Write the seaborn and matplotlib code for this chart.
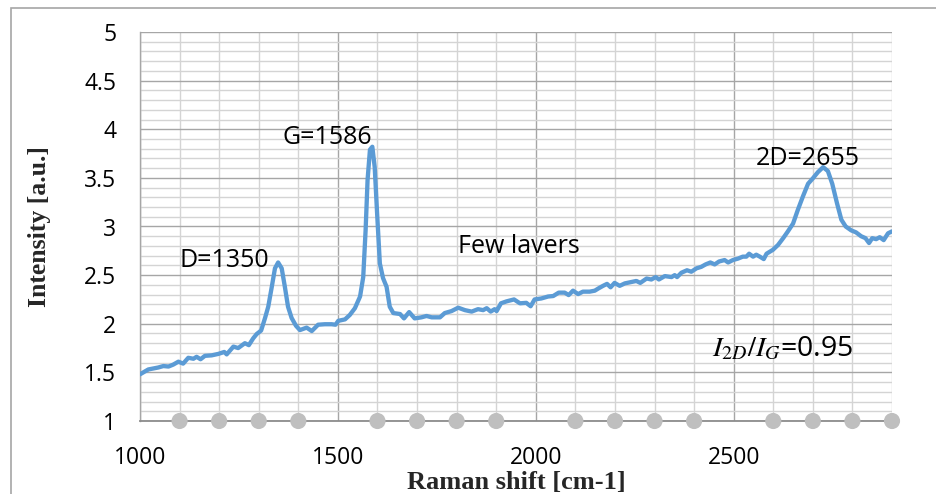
import matplotlib
matplotlib.use("Agg")
import matplotlib.pyplot as plt
import matplotlib.patches as mpatches
from matplotlib.ticker import MultipleLocator
import seaborn as sns
import pandas as pd

# ---- data ----
raman_shift = [1000, 1021, 1046, 1059, 1072, 1084, 1097, 1109, 1122, 1135, 1143, 1153, 1164, 1181,
               1198, 1213, 1219, 1236, 1248, 1265, 1275, 1286, 1295, 1306, 1316, 1324, 1333, 1341,
               1349, 1358, 1366, 1374, 1383, 1394, 1404, 1421, 1434, 1450, 1467, 1484, 1494, 1501,
               1518, 1530, 1543, 1556, 1564, 1570, 1575, 1581, 1587, 1593, 1599, 1606, 1614, 1623,
               1631, 1640, 1657, 1667, 1680, 1694, 1711, 1724, 1737, 1758, 1770, 1787, 1804, 1821,
               1838, 1854, 1867, 1876, 1886, 1896, 1901, 1912, 1926, 1945, 1960, 1976, 1987, 1997,
               2014, 2031, 2044, 2058, 2073, 2083, 2094, 2107, 2119, 2136, 2149, 2159, 2170, 2180,
               2189, 2199, 2212, 2225, 2242, 2254, 2264, 2280, 2292, 2303, 2311, 2326, 2343, 2351,
               2357, 2368, 2382, 2393, 2406, 2418, 2429, 2441, 2452, 2463, 2477, 2486, 2498, 2511,
               2523, 2532, 2539, 2549, 2557, 2566, 2576, 2583, 2599, 2612, 2625, 2637, 2650, 2662,
               2675, 2688, 2700, 2713, 2726, 2738, 2749, 2761, 2772, 2783, 2797, 2809, 2822, 2833,
               2842, 2850, 2860, 2869, 2879, 2890, 2900]
intensity = [1.48, 1.53, 1.55, 1.565, 1.56, 1.58, 1.61, 1.59, 1.65, 1.64, 1.66, 1.635, 1.67, 1.675,
             1.69, 1.71, 1.685, 1.765, 1.75, 1.80, 1.78, 1.85, 1.895, 1.93, 2.06, 2.175, 2.38, 2.57,
             2.63, 2.57, 2.38, 2.175, 2.06, 1.98, 1.935, 1.96, 1.925, 1.99, 1.995, 1.995, 1.99, 2.03,
             2.045, 2.09, 2.16, 2.28, 2.48, 2.96, 3.48, 3.79, 3.82, 3.61, 3.14, 2.62, 2.47, 2.38,
             2.175, 2.11, 2.10, 2.055, 2.12, 2.055, 2.066, 2.08, 2.066, 2.066, 2.11, 2.13, 2.165, 2.14,
             2.125, 2.15, 2.14, 2.16, 2.125, 2.15, 2.13, 2.21, 2.23, 2.25, 2.21, 2.215, 2.18, 2.25,
             2.26, 2.28, 2.285, 2.32, 2.32, 2.295, 2.34, 2.305, 2.33, 2.33, 2.34, 2.365, 2.39, 2.41,
             2.375, 2.42, 2.39, 2.415, 2.43, 2.44, 2.42, 2.465, 2.455, 2.48, 2.455, 2.49, 2.48, 2.50,
             2.48, 2.525, 2.55, 2.535, 2.57, 2.585, 2.61, 2.63, 2.61, 2.64, 2.655, 2.63, 2.655, 2.67,
             2.69, 2.69, 2.72, 2.69, 2.71, 2.69, 2.665, 2.72, 2.76, 2.81, 2.88, 2.95, 3.03, 3.17,
             3.31, 3.44, 3.495, 3.56, 3.61, 3.57, 3.44, 3.24, 3.07, 3.00, 2.96, 2.94, 2.90, 2.88,
             2.83, 2.88, 2.87, 2.89, 2.86, 2.93, 2.95]

marker_x = [1100, 1200, 1300, 1400, 1600, 1700, 1800, 1900, 2100, 2200, 2300, 2400,
            2600, 2700, 2800, 2900]
marker_y = [1] * len(marker_x)

x_ticks = [1000, 1500, 2000, 2500]
y_ticks = [1, 1.5, 2, 2.5, 3, 3.5, 4, 4.5, 5]
y_tick_labels = ["1", "1.5", "2", "2.5", "3", "3.5", "4", "4.5", "5"]

annotations = [("D=1350", 1101, 2.587, 18),
               ("G=1586", 1361, 3.848, 18),
               ("Few lavers", 1803, 2.727, 18),
               ("2D=2655", 2556, 3.632, 18),
               (r"$I_{2D}/I_G$=0.95", 2446, 1.668, 20.5)]

x_label = "Raman shift [cm-1]"
y_label = "Intensity [a.u.]"

# ---- style ----
sns.set_theme(style="white")
plt.rcParams["font.family"] = ["Open Sans", "DejaVu Sans"]
plt.rcParams["mathtext.fontset"] = "stix"

spec = pd.DataFrame({"shift": raman_shift, "intensity": intensity})
marks = pd.DataFrame({"x": marker_x, "y": marker_y})

fig = plt.figure(figsize=(9.36, 4.94), dpi=100)
fig.patch.set_facecolor("white")
ax = fig.add_axes([140 / 936, 73 / 494, 752 / 936, 389 / 494])
ax.set_facecolor("white")

# outer chart frame
fig.patches.append(mpatches.Rectangle((11 / 936, -0.2), 1.2, 0.2 + 486 / 494,
                                      transform=fig.transFigure, fill=False,
                                      edgecolor="#a6a6a6", linewidth=1.2))

ax.set_xlim(1000, 2900)
ax.set_ylim(1, 5)
ax.xaxis.set_major_locator(MultipleLocator(500))
ax.xaxis.set_minor_locator(MultipleLocator(100))
ax.yaxis.set_major_locator(MultipleLocator(0.5))
ax.yaxis.set_minor_locator(MultipleLocator(0.1))
ax.set_xticks(x_ticks)
ax.set_yticks(y_ticks)
ax.set_yticklabels(y_tick_labels)

ax.grid(which="minor", color="#d4d4d4", linewidth=1.0)
ax.grid(which="major", color="#a6a6a6", linewidth=1.0)
ax.set_axisbelow(True)

for s in ["top", "right"]:
    ax.spines[s].set_visible(False)
ax.spines["left"].set_color("#a6a6a6")
ax.spines["left"].set_linewidth(1.0)
ax.spines["bottom"].set_color("#8c8c8c")
ax.spines["bottom"].set_linewidth(1.3)

ax.tick_params(axis="both", which="major", direction="out", length=6, width=1.0,
               color="#a6a6a6", labelsize=16.5, labelcolor="black")
ax.tick_params(axis="y", which="major", pad=11)
ax.tick_params(axis="x", which="major", pad=12)
ax.tick_params(which="minor", length=0)

sns.lineplot(data=spec, x="shift", y="intensity", ax=ax, color="#5b9bd5",
             linewidth=3.1, zorder=3, sort=False)
sns.scatterplot(data=marks, x="x", y="y", ax=ax, color="#bfbfbf", s=135,
                edgecolor="none", zorder=4, clip_on=False)

for txt, xv, yv, fs in annotations:
    ax.text(xv, yv, txt, fontsize=fs, ha="left", va="baseline", color="black", zorder=5)

ax.set_xlabel(x_label, family="Liberation Serif", fontweight="bold", fontsize=19, labelpad=1)
ax.set_ylabel(y_label, family="Liberation Serif", fontweight="bold", fontsize=18.5, labelpad=24)

fig.savefig("out.png", dpi=100)
